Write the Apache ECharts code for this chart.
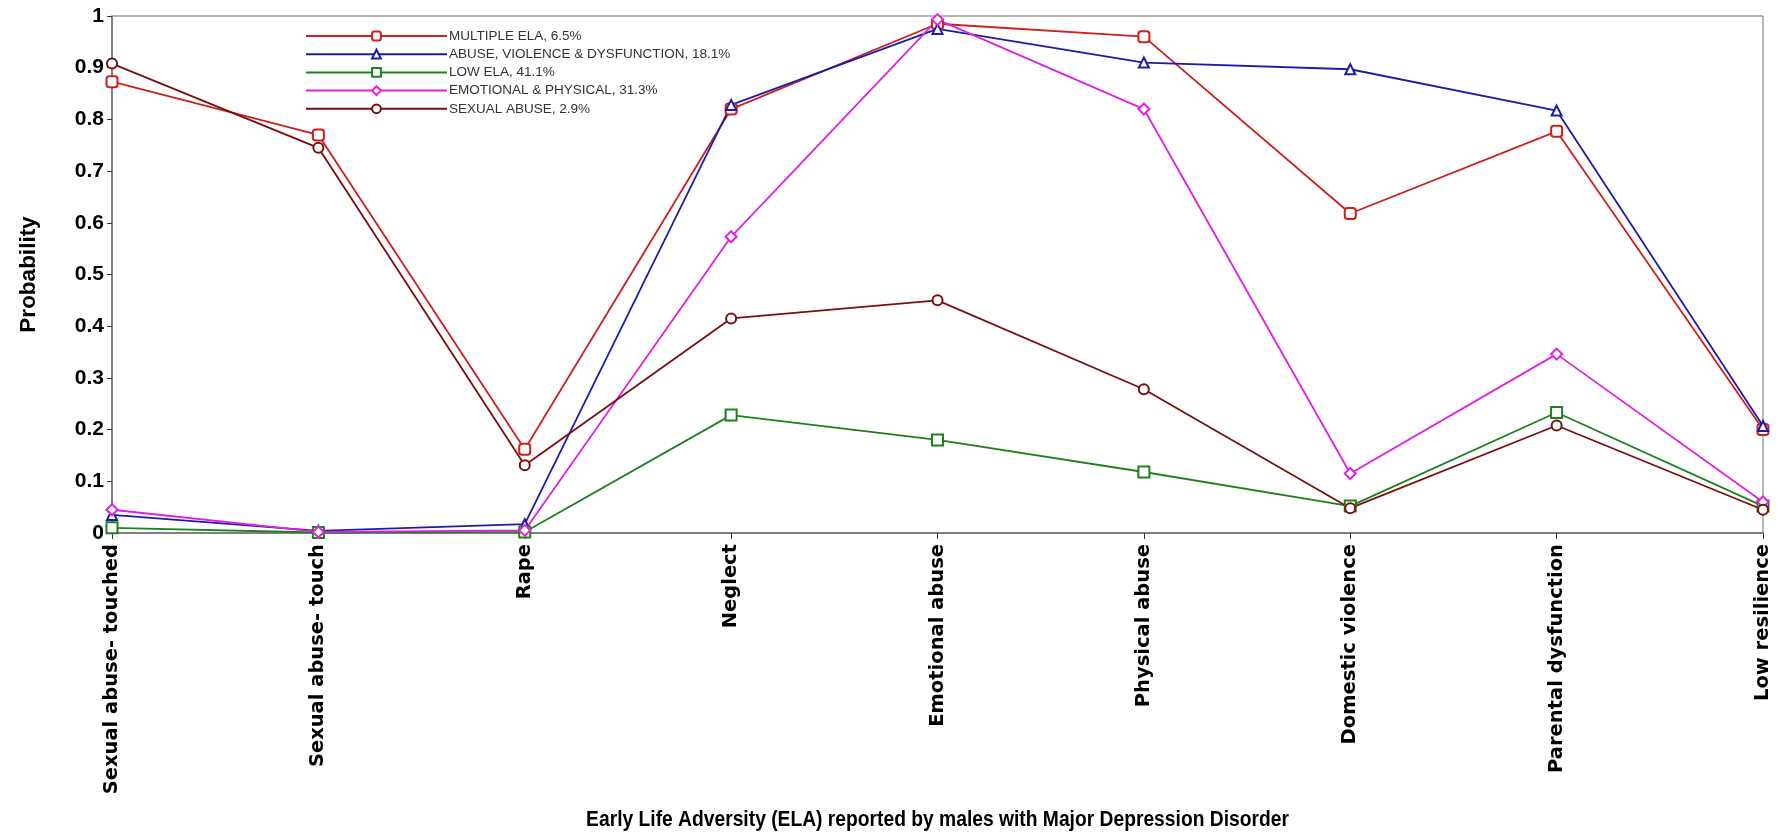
<!DOCTYPE html>
<html>
<head>
<meta charset="utf-8">
<script src="https://cdn.jsdelivr.net/npm/echarts@6/dist/echarts.min.js"></script>
<style>
  html, body { margin: 0; padding: 0; background: #fff; }
  #chart { width: 1786px; height: 835px; }
</style>
</head>
<body>
<div id="chart"></div>
<script>
// Early life adversity categories (x axis)
const categories = [
  'Sexual abuse- touched', 'Sexual abuse- touch', 'Rape', 'Neglect',
  'Emotional abuse', 'Physical abuse', 'Domestic violence',
  'Parental dysfunction', 'Low resilience'
];

// Latent class names with class share
const classNames = [
  'MULTIPLE ELA, 6.5%',
  'ABUSE, VIOLENCE & DYSFUNCTION, 18.1%',
  'LOW ELA, 41.1%',
  'EMOTIONAL & PHYSICAL, 31.3%',
  'SEXUAL ABUSE, 2.9%'
];

// Item-response probabilities per class
const multipleEla   = [0.873, 0.770, 0.162, 0.820, 0.985, 0.960, 0.618, 0.777, 0.200];
const abuseViolence = [0.035, 0.004, 0.017, 0.828, 0.975, 0.910, 0.897, 0.817, 0.207];
const lowEla        = [0.010, 0.001, 0.002, 0.228, 0.180, 0.118, 0.052, 0.233, 0.052];
const emotionalPhys = [0.045, 0.002, 0.005, 0.573, 0.993, 0.820, 0.115, 0.346, 0.060];
const sexualAbuse   = [0.908, 0.745, 0.131, 0.415, 0.450, 0.278, 0.048, 0.208, 0.045];

const yTicks = [0, 0.1, 0.2, 0.3, 0.4, 0.5, 0.6, 0.7, 0.8, 0.9, 1];

const xTitle = 'Early Life Adversity (ELA) reported by males with Major Depression Disorder';

const seriesDefs = [
  { name: classNames[0], data: multipleEla,   color: '#cc1f1f', symbol: 'emptyRoundRect', size: 11 },
  { name: classNames[1], data: abuseViolence, color: '#1c1caa', symbol: 'emptyTriangle',  size: 10 },
  { name: classNames[2], data: lowEla,        color: '#1f801f', symbol: 'emptyRect',      size: 11 },
  { name: classNames[3], data: emotionalPhys, color: '#e020e0', symbol: 'emptyDiamond',   size: 11 },
  { name: classNames[4], data: sexualAbuse,   color: '#7a0f0f', symbol: 'emptyCircle',    size: 10 }
];

const gridLeft = 112, gridRight = 23;
const chartWidth = 1786;

const chart = echarts.init(document.getElementById('chart'), null, { renderer: 'canvas' });

chart.setOption({
  animation: false,
  backgroundColor: '#ffffff',
  grid: {
    left: gridLeft, right: gridRight, top: 16, bottom: 302,
    show: true, borderColor: '#6e6e6e', borderWidth: 1
  },
  legend: {
    orient: 'vertical',
    left: 300, top: 24,
    itemWidth: 141, itemHeight: 11, itemGap: 4.2,
    data: classNames,
    textStyle: {
      fontFamily: 'Liberation Sans, Arial, sans-serif',
      fontSize: 13.5, color: '#333333', padding: [0, 0, 0, -3]
    }
  },
  // condensed bold axis title, centred under the plot area
  graphic: [{
    type: 'text',
    x: (gridLeft + chartWidth - gridRight) / 2,
    y: 820,
    scaleX: 0.875,
    style: {
      text: xTitle,
      x: 0, y: 0,
      align: 'center', verticalAlign: 'middle',
      font: 'bold 22px "Liberation Sans", Arial, sans-serif',
      fill: '#000'
    }
  }],
  xAxis: {
    type: 'category',
    data: categories,
    boundaryGap: false,
    axisLine: { lineStyle: { color: '#6e6e6e', width: 1.5 } },
    axisTick: { show: true, inside: false, length: 6, alignWithLabel: true, lineStyle: { color: '#333' } },
    axisLabel: {
      rotate: 90, margin: 11, interval: 0,
      fontFamily: 'DejaVu Sans, sans-serif', fontWeight: 'bold',
      fontSize: 19.5, color: '#000'
    }
  },
  yAxis: {
    type: 'value',
    min: yTicks[0], max: yTicks[yTicks.length - 1], interval: 0.1,
    splitLine: { show: false },
    axisLine: { show: true, lineStyle: { color: '#6e6e6e', width: 1.5 } },
    axisTick: { show: true, inside: false, length: 5, lineStyle: { color: '#333' } },
    axisLabel: {
      margin: 8,
      fontFamily: 'Liberation Sans, Arial, sans-serif', fontWeight: 'bold',
      fontSize: 21, color: '#000',
      formatter: v => String(Math.round(v * 10) / 10)
    },
    name: 'Probability',
    nameLocation: 'middle', nameGap: 72,
    nameTextStyle: {
      fontFamily: 'Liberation Sans, Arial, sans-serif',
      fontWeight: 'bold', fontSize: 22.5, color: '#000'
    }
  },
  series: seriesDefs.map(s => ({
    name: s.name,
    type: 'line',
    data: s.data,
    symbol: s.symbol,
    symbolSize: s.size,
    showAllSymbol: true,
    lineStyle: { color: s.color, width: 1.8 },
    itemStyle: { color: s.color, borderColor: s.color, borderWidth: 1.6 },
    emphasis: { disabled: true }
  }))
});
</script>
</body>
</html>
